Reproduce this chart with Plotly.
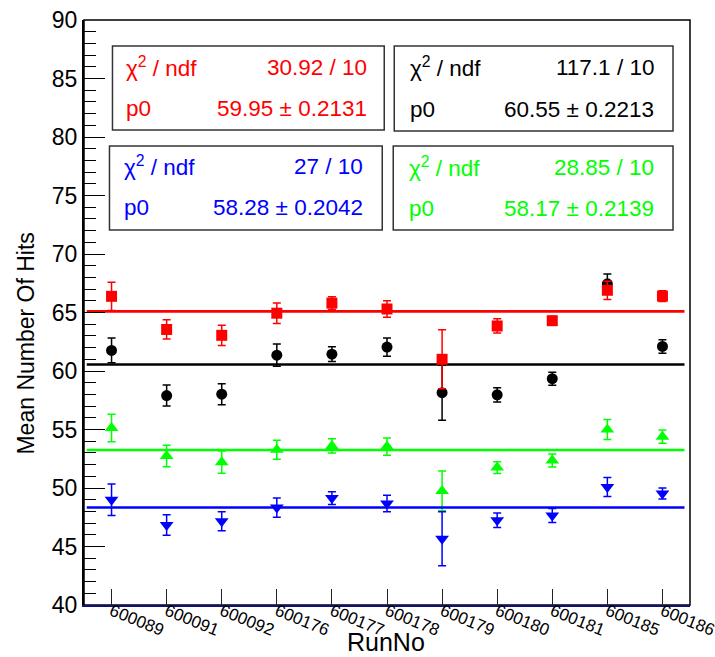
import plotly.graph_objects as go

# Run numbers on the x axis
runs = ["600089", "600091", "600092", "600176", "600177", "600178",
        "600179", "600180", "600181", "600185", "600186"]

# Mean number of hits per run, one series per colour, with errors
red_vals = [66.38, 63.55, 63.05, 64.94, 65.8, 65.3, 61.0, 63.85, 64.3, 66.9, 66.4]
red_errs = [1.21, 0.82, 0.87, 0.88, 0.55, 0.71, 2.52, 0.61, 0.35, 0.78, 0.45]

black_vals = [61.76, 57.9, 58.02, 61.35, 61.44, 62.05, 58.15, 57.96, 59.34, 67.45, 62.1]
black_errs = [1.05, 0.9, 0.9, 0.95, 0.63, 0.78, 2.35, 0.61, 0.55, 0.85, 0.58]

green_vals = [55.13, 52.73, 52.21, 53.27, 53.6, 53.54, 49.75, 51.75, 52.35, 55.0, 54.39]
green_errs = [1.17, 0.92, 0.95, 0.81, 0.6, 0.74, 1.7, 0.5, 0.55, 0.85, 0.57]

blue_vals = [49.0, 46.84, 47.15, 48.33, 49.14, 48.67, 45.66, 47.25, 47.65, 50.08, 49.53]
blue_errs = [1.34, 0.87, 0.81, 0.82, 0.55, 0.71, 2.3, 0.62, 0.6, 0.81, 0.48]

# Constant (pol0) fit levels and the range they are drawn over
fit_levels = {"red": 65.1, "black": 60.55, "green": 53.25, "blue": 48.33}
fit_x = [-0.45, 10.4]

# Fit statistics boxes
stat_chi2 = {"red": "30.92 / 10", "black": "117.1 / 10", "blue": "27 / 10", "green": "28.85 / 10"}
stat_p0 = {"red": "59.95 ± 0.2131", "black": "60.55 ± 0.2213",
           "blue": "58.28 ± 0.2042", "green": "58.17 ± 0.2139"}

colors = {"red": "#ff0000", "black": "#000000", "green": "#00ff00", "blue": "#0000ff"}
FONT = "Liberation Sans, Arial, Helvetica, sans-serif"

W, H = 715, 657
L, R, T, B = 83.5, 25, 20, 52
pw, ph = W - L - R, H - T - B
Y_MIN, Y_MAX = 40, 90


def px_x(p):
    return (p - L) / pw


def px_y(p):
    return (H - B - p) / ph


xs = list(range(len(runs)))
fig = go.Figure()

series = [
    ("black", black_vals, black_errs, "circle", 11),
    ("red", red_vals, red_errs, "square", 11),
    ("green", green_vals, green_errs, "triangle-up", 12),
    ("blue", blue_vals, blue_errs, "triangle-down", 12),
]

for name, vals, errs, sym, size in series:
    c = colors[name]
    fig.add_trace(go.Scatter(
        x=xs, y=vals, mode="markers",
        marker=dict(symbol=sym, size=size, color=c, line=dict(width=0)),
        error_y=dict(type="data", array=errs, visible=True, color=c,
                     thickness=1.5, width=4),
        showlegend=False, hoverinfo="skip",
    ))
    fig.add_trace(go.Scatter(
        x=fit_x, y=[fit_levels[name]] * 2, mode="lines",
        line=dict(color=c, width=2.6), showlegend=False, hoverinfo="skip",
    ))

shapes = [
    # plot frame
    dict(type="rect", xref="paper", yref="paper", x0=0, x1=1, y0=0, y1=1,
         line=dict(color="black", width=1.5), layer="below"),
]

# stat boxes: colour, box edges and text anchors in pixels
boxes = [
    ("red", 112, 384, 46, 130, 124, 369, 67, 108),
    ("black", 394, 673, 46, 131, 408, 656, 67, 109),
    ("blue", 109, 382, 146, 230, 122, 365, 166, 208),
    ("green", 393, 673, 146, 230, 407, 656, 167, 209),
]
annotations = []
for name, x0, x1, y0, y1, tl, tr, ya, yb in boxes:
    c = colors[name]
    shapes.append(dict(type="rect", xref="paper", yref="paper",
                       x0=px_x(x0), x1=px_x(x1), y0=px_y(y1), y1=px_y(y0),
                       line=dict(color="#333333", width=1.5),
                       fillcolor="white", layer="above"))
    for x, y, anchor, txt in [
        (tl, ya, "left", "χ<sup>2</sup> / ndf"),
        (tr, ya, "right", stat_chi2[name]),
        (tl, yb, "left", "p0"),
        (tr, yb, "right", stat_p0[name]),
    ]:
        annotations.append(dict(xref="paper", yref="paper", x=px_x(x), y=px_y(y),
                                xanchor=anchor, yanchor="middle", showarrow=False,
                                text=txt, font=dict(family=FONT, size=22.5, color=c)))

# axis titles
annotations.append(dict(xref="paper", yref="paper", x=px_x(386), y=px_y(642),
                        xanchor="center", yanchor="middle", showarrow=False,
                        text="RunNo", font=dict(family=FONT, size=25, color="black")))
annotations.append(dict(xref="paper", yref="paper", x=px_x(25), y=px_y(344),
                        xanchor="center", yanchor="middle", showarrow=False,
                        textangle=-90, text="Mean Number Of Hits",
                        font=dict(family=FONT, size=23, color="black")))

fig.update_layout(
    width=W, height=H,
    margin=dict(l=L, r=R, t=T, b=B, pad=0, autoexpand=False),
    paper_bgcolor="white", plot_bgcolor="white",
    shapes=shapes, annotations=annotations,
    xaxis=dict(range=[-0.5, 10.5], tickmode="array", tickvals=xs, ticktext=runs,
               tickangle=22, ticks="inside", ticklen=16, tickwidth=1.4,
               tickcolor="#222222", showgrid=False, zeroline=False,
               showline=True, linecolor="#10107a", linewidth=2,
               automargin=False, ticklabeloverflow="allow",
               ticklabelstandoff=-12,
               tickfont=dict(family=FONT, size=17, color="black")),
    yaxis=dict(range=[Y_MIN, Y_MAX], tickmode="linear", tick0=40, dtick=5,
               ticks="inside", ticklen=21, automargin=False,
               tickwidth=1.4, tickcolor="black", showgrid=False, zeroline=False,
               showline=True, linecolor="black", linewidth=2,
               minor=dict(ticks="inside", ticklen=12, tickwidth=1.4,
                          tickcolor="black", dtick=1, tick0=40),
               tickfont=dict(family=FONT, size=23, color="black")),
)

fig.write_html("out.html")
